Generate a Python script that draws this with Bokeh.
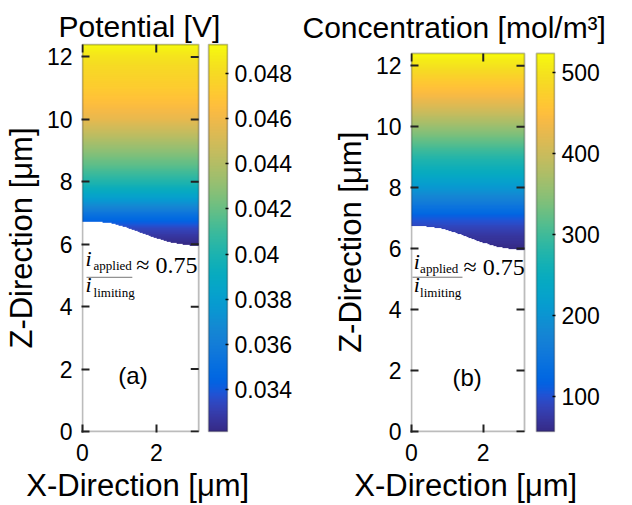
import numpy as np
from bokeh.plotting import figure
from bokeh.models import (LinearColorMapper, FixedTicker, LinearAxis, Range1d, Label,
                          BoxAnnotation)
from bokeh.layouts import row
from bokeh.embed import file_html
from bokeh.resources import INLINE

# ---------------- data ----------------
z_levels = [5.9, 6.0, 6.5, 7.0, 7.5, 8.0, 8.5, 9.0, 9.5, 10.0, 10.5, 11.0, 11.5, 12.0, 12.5]
potential_V = [0.0320, 0.03215, 0.03335, 0.03558, 0.03823, 0.04020, 0.04166, 0.04294,
               0.04431, 0.04568, 0.04654, 0.04722, 0.04774, 0.04842, 0.04945]
concentration = [55, 57, 76, 108, 160, 208, 248, 281, 320, 360, 402, 439, 467, 500, 530]

interface_x = [0.0, 0.4, 0.8, 1.2, 1.6, 2.0, 2.4, 2.8, 3.15]
interface_z = [6.72, 6.71, 6.66, 6.53, 6.35, 6.18, 6.05, 5.97, 5.94]

x_ticks = [0, 2]
z_ticks = [0, 2, 4, 6, 8, 10, 12]
pot_ticks = [0.034, 0.036, 0.038, 0.04, 0.042, 0.044, 0.046, 0.048]
pot_tick_labels = ["0.034", "0.036", "0.038", "0.04", "0.042", "0.044", "0.046", "0.048"]
conc_ticks = [100, 200, 300, 400, 500]
conc_tick_labels = ["100", "200", "300", "400", "500"]
pot_range = (0.03215, 0.04928)
conc_range = (57, 523)
X_MAX = 3.15
Z_MAX = 12.4

# ---------------- parula colormap ----------------
PARULA = [
    (0.2081, 0.1663, 0.5292), (0.2116, 0.1898, 0.5777), (0.2123, 0.2138, 0.6270),
    (0.2081, 0.2386, 0.6771), (0.1959, 0.2645, 0.7279), (0.1707, 0.2919, 0.7792),
    (0.1253, 0.3242, 0.8303), (0.0591, 0.3598, 0.8683), (0.0117, 0.3875, 0.8820),
    (0.0060, 0.4086, 0.8828), (0.0165, 0.4266, 0.8786), (0.0329, 0.4430, 0.8720),
    (0.0498, 0.4586, 0.8641), (0.0629, 0.4737, 0.8554), (0.0723, 0.4887, 0.8467),
    (0.0779, 0.5040, 0.8384), (0.0793, 0.5200, 0.8312), (0.0749, 0.5375, 0.8263),
    (0.0641, 0.5570, 0.8240), (0.0488, 0.5772, 0.8228), (0.0343, 0.5966, 0.8199),
    (0.0265, 0.6137, 0.8135), (0.0239, 0.6287, 0.8038), (0.0231, 0.6418, 0.7913),
    (0.0228, 0.6535, 0.7768), (0.0267, 0.6642, 0.7607), (0.0384, 0.6743, 0.7436),
    (0.0590, 0.6838, 0.7254), (0.0843, 0.6928, 0.7062), (0.1133, 0.7015, 0.6859),
    (0.1453, 0.7098, 0.6646), (0.1801, 0.7177, 0.6424), (0.2178, 0.7250, 0.6193),
    (0.2586, 0.7317, 0.5954), (0.3022, 0.7376, 0.5712), (0.3482, 0.7424, 0.5473),
    (0.3953, 0.7459, 0.5244), (0.4420, 0.7481, 0.5033), (0.4871, 0.7491, 0.4840),
    (0.5300, 0.7491, 0.4661), (0.5709, 0.7485, 0.4494), (0.6099, 0.7473, 0.4337),
    (0.6473, 0.7456, 0.4188), (0.6834, 0.7435, 0.4044), (0.7184, 0.7411, 0.3905),
    (0.7525, 0.7384, 0.3768), (0.7858, 0.7356, 0.3633), (0.8185, 0.7327, 0.3498),
    (0.8507, 0.7299, 0.3360), (0.8824, 0.7274, 0.3217), (0.9139, 0.7258, 0.3063),
    (0.9450, 0.7261, 0.2886), (0.9739, 0.7314, 0.2666), (0.9938, 0.7455, 0.2403),
    (0.9990, 0.7653, 0.2164), (0.9955, 0.7861, 0.1967), (0.9880, 0.8066, 0.1794),
    (0.9789, 0.8271, 0.1633), (0.9697, 0.8481, 0.1475), (0.9626, 0.8705, 0.1309),
    (0.9589, 0.8949, 0.1132), (0.9598, 0.9218, 0.0948), (0.9661, 0.9514, 0.0755),
    (0.9763, 0.9831, 0.0538)]
_P = np.array(PARULA)
_t = np.linspace(0, 1, len(_P))
palette = ["#%02x%02x%02x" % tuple(int(round(np.interp(u, _t, _P[:, k]) * 255)) for k in range(3))
           for u in np.linspace(0, 1, 256)]

SANS = "Liberation Sans"
SERIF = "Liberation Serif"
INK = "#222222"
TICK_LEN = 8
FRAME_TOP = 43      # shared by both panels (row layouts align the frames)
FRAME_BOTTOM = 433
NB = "\u00a0"       # non-breaking space, used to nudge centred axis titles


def make_panel(title, values, vrange, cticks, clabels, x0, width, box, cbar,
               title_offset, title_standoff, xlab_pad, ylab_pad, tag, tag_pos, frac):
    # x0: page x of the figure; box = (left, right, top) page px of the plot box
    bl, br, bt = box
    sx = (br - bl) / X_MAX            # px per x unit
    sz = (432 - bt) / Z_MAX           # px per z unit
    fl, fr = bl - 1, cbar[1] + 1      # frame spans plot box + colour bar (+1 px pad)
    x_range = Range1d((fl - bl) / sx, (fr - bl) / sx)
    y_range = Range1d((432 - FRAME_BOTTOM) / sz, (432 - FRAME_TOP) / sz)
    cb_x0, cb_x1 = (cbar[0] - bl) / sx, (cbar[1] - bl) / sx

    p = figure(width=width, height=505, x_range=x_range, y_range=y_range,
               output_backend="svg", toolbar_location=None,
               min_border_left=fl - x0, min_border_right=x0 + width - fr,
               min_border_top=FRAME_TOP, min_border_bottom=505 - FRAME_BOTTOM,
               background_fill_color="white", border_fill_color="white")
    p.xgrid.visible = False
    p.ygrid.visible = False
    p.outline_line_color = None

    p.title.text = title
    p.title.text_font = SANS
    p.title.text_font_size = "30px"
    p.title.text_font_style = "normal"
    p.title.text_color = "black"
    p.title.align = "left"
    p.title.offset = title_offset
    p.title.standoff = title_standoff

    mapper = LinearColorMapper(palette=palette, low=vrange[0], high=vrange[1],
                               nan_color="rgba(0, 0, 0, 0)")

    # field image above the curved interface
    nx, nz = 160, 420
    xs = np.linspace(0, X_MAX, nx)
    zs = np.linspace(5.85, Z_MAX, nz)
    col = np.interp(zs, z_levels, values)
    img = np.tile(col[:, None], (1, nx))
    bz = np.interp(xs, interface_x, interface_z)
    img[zs[:, None] < bz[None, :]] = np.nan
    p.image(image=[img], x=0, y=5.85, dw=X_MAX, dh=Z_MAX - 5.85, color_mapper=mapper)

    # colour bar: the mapper's range drawn as a strip, with its own axis on the right
    strip = np.linspace(vrange[0], vrange[1], 256)[:, None]
    p.image(image=[strip], x=cb_x0, y=0, dw=cb_x1 - cb_x0, dh=Z_MAX, color_mapper=mapper)
    p.extra_y_ranges = {"cb": Range1d(
        vrange[0] + (vrange[1] - vrange[0]) * y_range.start / Z_MAX,
        vrange[0] + (vrange[1] - vrange[0]) * y_range.end / Z_MAX)}
    cax = LinearAxis(y_range_name="cb", ticker=FixedTicker(ticks=cticks),
                     major_label_overrides=dict(zip(cticks, clabels)),
                     axis_line_color=None, major_tick_in=3, major_tick_out=0,
                     major_tick_line_color="black", major_tick_line_width=1.5,
                     minor_tick_line_color=None, major_label_standoff=6,
                     major_label_text_font=SANS, major_label_text_font_size="23px",
                     major_label_text_color="black")
    p.add_layout(cax, "right")

    # boxes (MATLAB "box on")
    p.add_layout(BoxAnnotation(left=0, right=X_MAX, bottom=0, top=Z_MAX, fill_color=None,
                               fill_alpha=0, line_color=INK, line_width=1.8))
    p.add_layout(BoxAnnotation(left=cb_x0, right=cb_x1, bottom=0, top=Z_MAX, fill_color=None,
                               fill_alpha=0, line_color=INK, line_width=1.8))

    # mirrored inward ticks on the right and top edges of the plot box
    dx = TICK_LEN / sx
    dz = TICK_LEN / sz
    p.segment(x0=[X_MAX] * len(z_ticks), y0=z_ticks, x1=[X_MAX - dx] * len(z_ticks), y1=z_ticks,
              line_color=INK, line_width=2)
    p.segment(x0=x_ticks, y0=[Z_MAX] * len(x_ticks), x1=x_ticks, y1=[Z_MAX - dz] * len(x_ticks),
              line_color=INK, line_width=2)

    for ax in (p.xaxis[0], p.yaxis[0]):
        ax.axis_line_color = None
        ax.major_tick_in = TICK_LEN
        ax.major_tick_out = 0
        ax.major_tick_line_color = INK
        ax.major_tick_line_width = 2
        ax.minor_tick_line_color = None
        ax.major_label_text_font = SANS
        ax.major_label_text_font_size = "23px"
        ax.major_label_text_color = "black"
        ax.axis_label_text_font = SANS
        ax.axis_label_text_font_style = "normal"
        ax.axis_label_text_color = "black"
        ax.axis_label_text_font_size = "31px"
    xa = p.xaxis[0]
    ya = p.yaxis[0]
    xa.ticker = FixedTicker(ticks=x_ticks)
    ya.ticker = FixedTicker(ticks=z_ticks)
    xa.major_label_standoff = 11
    xa.axis_label_standoff = 4
    ya.major_label_standoff = 9
    ya.axis_label_standoff = 5
    # trailing no-break spaces shift the centred titles onto the plot box centre
    xa.axis_label = "X-Direction [μm]" + NB * xlab_pad
    ya.axis_label = "Z-Direction [μm]" + NB * ylab_pad

    # labels inside the axes
    p.add_layout(Label(x=tag_pos[0], y=tag_pos[1], text=tag, text_font=SANS,
                       text_font_size="24px", text_align="center",
                       text_baseline="middle", text_color="black"))
    (ix, inum, sxl, snum, bx0, bx1, by, ax_, abase, iden, sden) = frac
    p.add_layout(Label(x=ix, y=inum, text="i", text_font=SERIF, text_font_style="italic",
                       text_font_size="22px", text_color="black"))
    p.add_layout(Label(x=sxl, y=snum, text="applied", text_font=SERIF,
                       text_font_size="13px", text_color="black"))
    p.add_layout(BoxAnnotation(left=bx0, right=bx1, bottom=by, top=by, fill_alpha=0,
                               fill_color=None, line_color="black", line_width=1))
    p.add_layout(Label(x=ax_, y=abase, text="≈ 0.75", text_font=SERIF,
                       text_font_size="24px", text_color="black"))
    p.add_layout(Label(x=ix, y=iden, text="i", text_font=SERIF, text_font_style="italic",
                       text_font_size="22px", text_color="black"))
    p.add_layout(Label(x=sxl, y=sden, text="limiting", text_font=SERIF,
                       text_font_size="13px", text_color="black"))
    return p


pa = make_panel("Potential [V]", potential_V, pot_range, pot_ticks, pot_tick_labels,
                x0=0, width=300, box=(81, 198, 44), cbar=(208, 227),
                title_offset=-23, title_standoff=1, xlab_pad=4, ylab_pad=0,
                tag="(a)", tag_pos=(1.37, 1.79),
                frac=(0.08, 5.14, 0.30, 5.08, 0.11, 1.35, 4.94, 1.46, 4.92, 4.31, 4.22))
pb = make_panel("Concentration [mol/m³]", concentration, conc_range,
                conc_ticks, conc_tick_labels,
                x0=300, width=332, box=(411, 524, 53), cbar=(536, 554),
                title_offset=-108, title_standoff=0, xlab_pad=4, ylab_pad=1,
                tag="(b)", tag_pos=(1.55, 1.77),
                frac=(0.06, 5.17, 0.24, 5.11, 0.03, 1.42, 5.06, 1.45, 4.97, 4.42, 4.32))

layout = row(pa, pb)
open("out.html", "w").write(file_html(layout, INLINE))
